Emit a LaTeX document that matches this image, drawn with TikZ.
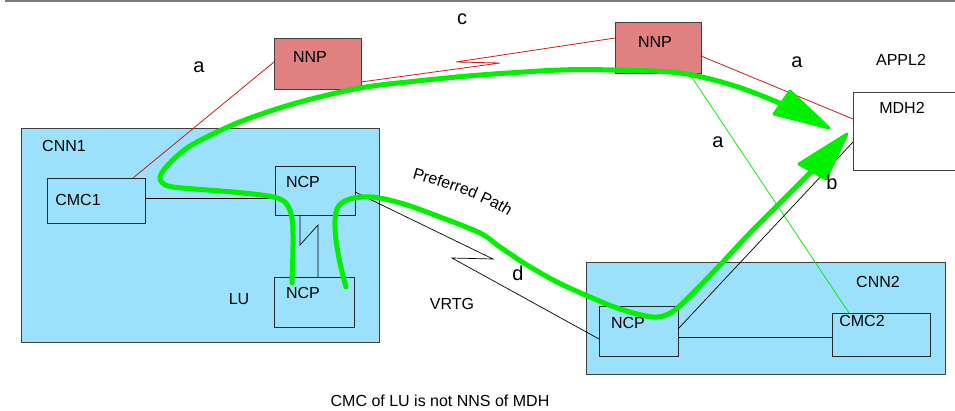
\documentclass[tikz,border=0pt]{standalone}
\usepackage{fontspec}
\setmainfont{Liberation Sans}
\usetikzlibrary{calc,decorations.text}

\definecolor{nnpfill}{HTML}{E08080}
\definecolor{cnnfill}{HTML}{9BE1FC}
\definecolor{pathgreen}{HTML}{00F000}
\definecolor{linkred}{HTML}{D01818}
\definecolor{edgegray}{HTML}{404040}
\definecolor{rulegray}{HTML}{7A7A7A}

\begin{document}
\begin{tikzpicture}[x=1pt,y=-1pt,
  box/.style={draw=edgegray,line width=0.9pt,inner sep=0pt,outer sep=0pt,anchor=north west},
  nnpbox/.style={box,fill=nnpfill},
  cnnbox/.style={box,fill=cnnfill},
  innerbox/.style={box,draw=black!85},
  txt/.style={inner sep=0pt,font=\fontsize{16}{19}\selectfont},
  tag/.style={inner sep=0pt,font=\fontsize{20}{24}\selectfont},
  redlink/.style={draw=linkred,line width=0.8pt},
  greenlink/.style={draw=pathgreen,line width=0.8pt},
  link/.style={draw=black,line width=0.7pt},
  route/.style={draw=pathgreen,line width=5pt,line cap=round,line join=round},
  routehead/.style={fill=pathgreen,draw=pathgreen,line width=3pt,line join=round}
]
\useasboundingbox (0,0) rectangle (955,410);
\clip (0,0) rectangle (955,410);

% top rule
\draw[rulegray,line width=2pt] (5,1) -- (960,1);

% network boxes
\node[cnnbox,minimum width=358pt,minimum height=214pt] (cnnA) at (21,128) {};
\node[cnnbox,minimum width=359pt,minimum height=112pt] (cnnB) at (586,262) {};

\node[nnpbox,minimum width=87pt,minimum height=51pt] (nnpA) at (274,38) {};
\node[nnpbox,minimum width=86pt,minimum height=51pt] (nnpB) at (615,22) {};

\node[innerbox,minimum width=98pt,minimum height=45pt] (cmcA) at (47,178) {};
\node[innerbox,minimum width=80pt,minimum height=49pt] (ncpA) at (275,166) {};
\node[innerbox,minimum width=80pt,minimum height=50pt] (ncpL) at (274,277) {};
\node[innerbox,minimum width=79pt,minimum height=50pt] (ncpB) at (599,306) {};
\node[innerbox,minimum width=98pt,minimum height=43pt] (cmcB) at (832,313) {};
\node[box,fill=white,minimum width=110pt,minimum height=78pt] (mdh) at (853,92) {};

% box texts
\node[txt] at (310,57) {NNP};
\node[txt] at (655,42) {NNP};
\node[txt] at (64,146) {CNN1};
\node[txt] at (78,200) {CMC1};
\node[txt] at (303,182) {NCP};
\node[txt] at (303,293) {NCP};
\node[txt] at (239,299) {LU};
\node[txt] at (878,282) {CNN2};
\node[txt] at (628,323) {NCP};
\node[txt] at (862,321) {CMC2};
\node[txt] at (902,108) {MDH2};
\node[txt] at (901,60) {APPL2};
\node[txt] at (452,304) {VRTG};
\node[txt] at (440,401) {CMC of LU is not NNS of MDH};
\path[decorate,decoration={text along path,text align=left,
  text={|\fontsize{16}{19}\selectfont|Preferred Path}}]
  (412,178) .. controls (446,188) and (478,197) .. (514,220);

% red links
\draw[redlink] ([xshift=86pt]cmcA.north west) -- ([yshift=-24pt]nnpA.north west);
\coordinate (cA) at (500,63);
\coordinate (cB) at (456,62);
\draw[redlink] ([yshift=7pt]nnpA.south east) -- (cA) -- (cB) -- ([yshift=-16pt]nnpB.north west);
\draw[redlink] ([yshift=-34pt]nnpB.north east) -- ([yshift=-27pt]mdh.north west);

% green link NNP to CMC2
\draw[greenlink] ([xshift=74pt]nnpB.south west) -- ([xshift=17pt]cmcB.north west);

% black links
\draw[link] ([yshift=-20pt]cmcA.north east) -- ([yshift=-32pt]ncpA.north west);
\coordinate (lA) at (300,245);
\coordinate (lB) at (318,225);
\draw[link] ([xshift=25pt]ncpA.south west) -- (lA) -- (lB) -- ([xshift=44pt]ncpL.north west);
\coordinate (dA) at (493,259);
\coordinate (dB) at (452,258);
\draw[link] ([yshift=-26pt]ncpA.north east) -- (dA) -- (dB) -- ([yshift=-33pt]ncpB.north west);
\draw[link] ([yshift=-31pt]ncpB.north east) -- ([yshift=-24pt]cmcB.north west);
\draw[link] ([yshift=-23pt]ncpB.north east) -- ([yshift=-50pt]mdh.north west);

% preferred routes with their heads
\draw[route] plot[smooth,tension=0.55] coordinates {
  (292,283) (293,245) (292,218) (285,202) (268,196) (233,192) (195,189)
  (168,186) (160,178) (167,166) (187,148) (217,132) (250,118) (300,102)
  (360,88) (417,81) (480,75) (560,70) (613,70) (680,73) (735,86) (782,104)};
\path[routehead] (829,128) -- (774,114) -- (790,91) -- cycle;
\draw[route] plot[smooth,tension=0.55] coordinates {
  (346,287) (340,263) (336,240) (335,220) (338,207) (347,200) (362,197)
  (380,198) (407,205) (440,217) (480,233) (500,247) (527,265) (557,282)
  (590,297) (620,309) (653,317) (672,312) (693,293) (720,265) (750,233)
  (780,203) (811,172)};
\path[routehead] (847,134) -- (826,179) -- (799,164) -- cycle;

% link letters
\node[tag] at (199,67) {a};
\node[tag] at (462,19) {c};
\node[tag] at (797,62) {a};
\node[tag] at (718,142) {a};
\node[tag] at (832,182) {b};
\node[tag] at (518,273) {d};
\end{tikzpicture}
\end{document}
